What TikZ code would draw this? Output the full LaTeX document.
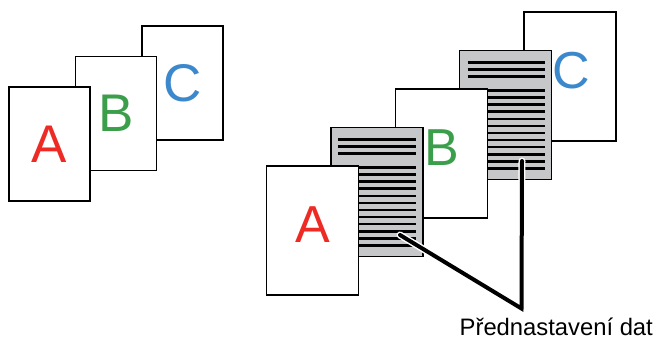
\documentclass[tikz,border=0pt]{standalone}
\usepackage{fontspec}
\setmainfont{Liberation Sans}
\usetikzlibrary{calc}
\definecolor{lred}{HTML}{EE2A24}
\definecolor{lgreen}{HTML}{3A9E4A}
\definecolor{lblue}{HTML}{3C88CC}
\definecolor{pgray}{HTML}{C6C7C9}
\begin{document}
\begin{tikzpicture}[x=1pt,y=-1pt,
  smallpage/.style={draw=black,line width=1.5pt,fill=white,inner sep=0pt,outer sep=0pt,
    minimum width=81pt,minimum height=114pt,anchor=north west,
    font=\fontsize{53}{60}\selectfont},
  bigpage/.style={draw=black,line width=1.5pt,fill=white,inner sep=0pt,outer sep=0pt,
    minimum width=92pt,minimum height=129pt,anchor=north west},
  graypage/.style={bigpage,fill=pgray},
  bigletter/.style={inner sep=0pt,font=\fontsize{52}{58}\selectfont},
  stripe/.style={line width=2.6pt,black},
  leader/.style={line width=4pt,black,line cap=round,line join=miter},
  halo/.style={line width=7pt,white,line cap=round,line join=miter}]
\useasboundingbox (0,0) rectangle (657,338);
% left group
\node[smallpage,text=lblue] (lc) at (142,26) {C};
\node[smallpage,text=lgreen] (lb) at (75.5,56.5) {B};
\node[smallpage,text=lred] (la) at (9,87) {A};
% right group
\node[bigpage] (rc) at (524.1,12) {};
\node[bigletter,text=lblue] (tc) at ([xshift=1.5pt,yshift=5.5pt]rc.center) {C};
\node[graypage] (g2) at (459.7,50.5) {};
\foreach \k in {0,1,2,4,5,6,7,8,9,10,11,12,13,14,15}
  \draw[stripe] ($(g2.north west)+(7.8,11.8+7.07*\k)$) -- ++(77.5,0);
\node[bigpage] (rb) at (395.3,89) {};
\node[bigletter,text=lgreen] (tb) at ([xshift=1pt,yshift=5.5pt]rb.center) {B};
\node[graypage] (g1) at (330.9,127.5) {};
\foreach \k in {0,1,2,4,5,6,7,8,9,10,11,12,13,14,15}
  \draw[stripe] ($(g1.north west)+(7.5,11.8+7.07*\k)$) -- ++(78,0);
\node[bigpage] (ra) at (266.5,166) {};
\node[bigletter,text=lred] (ta) at ([yshift=5.5pt]ra.center) {A};
% leader
\coordinate (s1) at (400,235);
\coordinate (v) at (521.5,308.5);
\coordinate (s2) at (522,161);
\draw[halo] (s1) -- (v) -- (s2);
\draw[leader] (s1) -- (v) -- (s2);
\node[inner sep=0pt,anchor=base west,font=\fontsize{23.8}{27}\selectfont] (lbl) at (459.5,335.5) {Přednastavení dat};
\end{tikzpicture}
\end{document}
